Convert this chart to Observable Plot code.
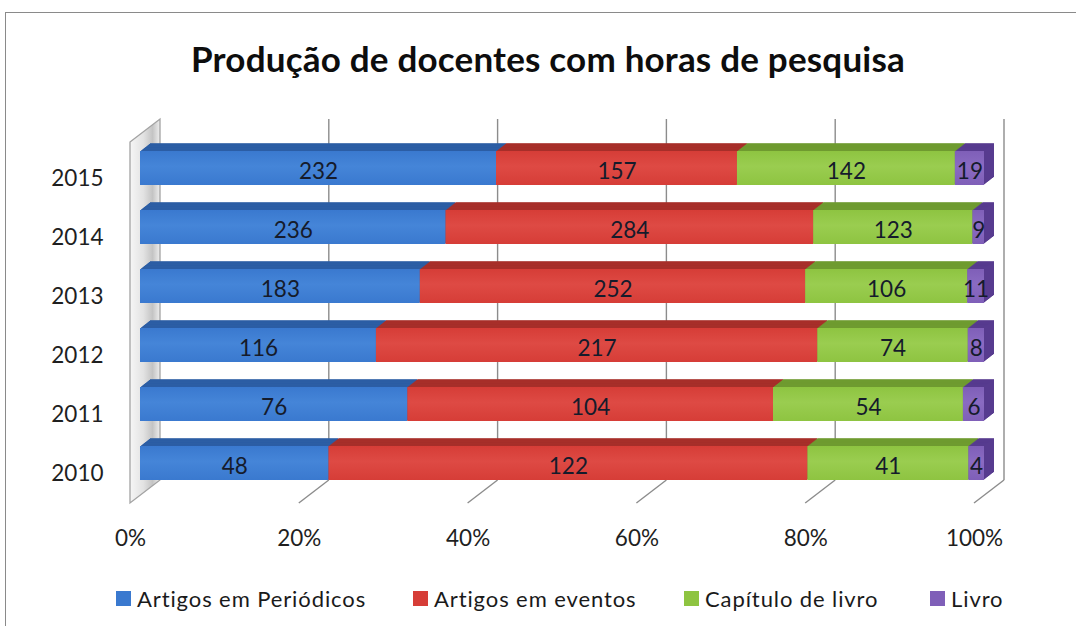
<!DOCTYPE html>
<html>
<head>
<meta charset="utf-8">
<script src="https://cdn.jsdelivr.net/npm/d3@7"></script>
<script src="https://cdn.jsdelivr.net/npm/@observablehq/plot@0.6"></script>
<style>
  html, body { margin: 0; padding: 0; background: #fff; }
  #wrap { position: relative; width: 1076px; height: 626px; overflow: hidden; font-family: Lato, "Open Sans", sans-serif; }
  #frame { position: absolute; left: 5px; top: 12px; width: 1200px; height: 800px; border-left: 1.5px solid #8a8a8a; border-top: 1.5px solid #8a8a8a; }
  #title { position: absolute; left: 0; width: 1096px; top: 41px; text-align: center; font-weight: 700; font-size: 35px; letter-spacing: 0.2px; line-height: 35px; color: #0d0d0d; }
  #chart { position: absolute; left: 0; top: 0; }
  .leg { position: absolute; top: 586px; height: 24px; display: flex; align-items: center; font-size: 22px; letter-spacing: 0.9px; color: #1a1a1a; white-space: nowrap; }
  .leg i { display: inline-block; width: 15px; height: 15px; margin-right: 6px; }
</style>
</head>
<body>
<div id="wrap">
  <div id="frame"></div>
  <div id="chart"></div>
  <div id="title">Produção de docentes com horas de pesquisa</div>
  <div id="legend"></div>
</div>
<script>
// ---- data ----
const years = ["2015", "2014", "2013", "2012", "2011", "2010"];
const series = ["Artigos em Periódicos", "Artigos em eventos", "Capítulo de livro", "Livro"];
const periodicos = [232, 236, 183, 116, 76, 48];
const eventos = [157, 284, 252, 217, 104, 122];
const capitulo = [142, 123, 106, 74, 54, 41];
const livro = [19, 9, 11, 8, 6, 4];
const xTicks = [0, 0.2, 0.4, 0.6, 0.8, 1];
const xTickLabels = ["0%", "20%", "40%", "60%", "80%", "100%"];

// ---- styles ----
const frontColors = ["#3a79cf", "#d63d37", "#8ec441", "#7f5fb8"];
const lightColors = ["#4585d8", "#de4a44", "#9acd50", "#8a6bc2"];
const darkColors = ["#2c5ea5", "#a72f2a", "#6f9b30", "#573b8f"];
const legendX = [116, 413, 684, 930];

const valuesBySeries = [periodicos, eventos, capitulo, livro];
const data = [];
years.forEach((year, i) => {
  series.forEach((s, j) => data.push({year, series: s, si: j, value: valuesBySeries[j][i]}));
});

function el(name, attrs) {
  const e = document.createElementNS("http://www.w3.org/2000/svg", name);
  for (const k in attrs) e.setAttribute(k, attrs[k]);
  return e;
}

// decoration: gradients, walls, gridlines (uses the plot's x scale)
function decor(index, scales, values, dims) {
  const X = scales.x;
  const g = el("g", {});
  const defs = el("defs", {});
  frontColors.forEach((c, i) => {
    const lg = el("linearGradient", {id: "grad" + i, x1: 0, y1: 0, x2: 0, y2: 1});
    lg.appendChild(el("stop", {offset: "0", "stop-color": c}));
    lg.appendChild(el("stop", {offset: "0.45", "stop-color": lightColors[i]}));
    lg.appendChild(el("stop", {offset: "1", "stop-color": c}));
    defs.appendChild(lg);
  });
  const wg = el("linearGradient", {id: "wallGrad", x1: 0, y1: 0, x2: 1, y2: 0});
  wg.appendChild(el("stop", {offset: "0", "stop-color": "#f6f6f6"}));
  wg.appendChild(el("stop", {offset: "0.45", "stop-color": "#e2e2e2"}));
  wg.appendChild(el("stop", {offset: "0.75", "stop-color": "#c4c4c4"}));
  wg.appendChild(el("stop", {offset: "1", "stop-color": "#eeeeee"}));
  defs.appendChild(wg);
  g.appendChild(defs);

  const yTop = dims.marginTop;
  const yBack = dims.height - dims.marginBottom;
  const ddx = 30, ddy = 23, fo = 10; // depth vector & front offset
  const x0 = X(0);
  // left wall
  g.appendChild(el("path", {
    d: `M${x0 - fo},${yTop + ddy}L${x0 - fo + ddx},${yTop}L${x0 - fo + ddx},${yBack}L${x0 - fo},${yBack + ddy}Z`,
    fill: "url(#wallGrad)", stroke: "#a3a3a3", "stroke-width": 1.3
  }));
  // back gridlines and floor lines
  xTicks.forEach(t => {
    if (t === 0) return;
    const xb = X(t) - fo + ddx;
    g.appendChild(el("line", {x1: xb, y1: yTop, x2: xb, y2: yBack, stroke: "#8c8c8c", "stroke-width": 1.4}));
    g.appendChild(el("line", {x1: X(t) - fo, y1: yBack + ddy, x2: xb, y2: yBack, stroke: "#8c8c8c", "stroke-width": 1.4}));
  });
  return g;
}

const marks = [decor];
// extrusion (top and side faces)
for (let k = 10; k >= 1; k--) {
  marks.push(Plot.barX(data, Plot.stackX({
    x: "value", y: "year", offset: "normalize",
    fill: d => darkColors[d.si], dx: k, dy: -k * 0.78
  })));
}
// front faces
marks.push(Plot.barX(data, Plot.stackX({
  x: "value", y: "year", offset: "normalize",
  fill: d => `url(#grad${d.si})`
})));
// value labels
marks.push(Plot.text(data, Plot.stackX({
  x: "value", y: "year", offset: "normalize",
  text: d => String(d.value), fill: "#151b2b", fontSize: 22.5, dy: 3
})));
// year labels
marks.push(Plot.text(years, {
  x: () => 0, y: d => d, text: d => d, textAnchor: "end", dx: -37, dy: 10,
  fontSize: 22.5, fill: "#1f1f1f"
}));
// x tick labels
marks.push(Plot.text(xTicks, {
  x: d => d, text: (d, i) => xTickLabels[i], frameAnchor: "bottom", lineAnchor: "middle",
  dx: -10, dy: 58, fontSize: 22.5, fill: "#1f1f1f"
}));

const chart = Plot.plot({
  width: 1076,
  height: 626,
  marginLeft: 140,
  marginRight: 92,
  marginTop: 119,
  marginBottom: 146,
  style: {fontFamily: "Lato, 'Open Sans', sans-serif", background: "transparent", overflow: "visible"},
  x: {domain: [0, 1], axis: null},
  y: {domain: years, range: [123, 508], padding: 0.4167, axis: null},
  color: {type: "identity"},
  marks
});
document.getElementById("chart").appendChild(chart);

const legend = document.getElementById("legend");
series.forEach((s, i) => {
  const d = document.createElement("div");
  d.className = "leg";
  d.style.left = legendX[i] + "px";
  d.innerHTML = `<i style="background:${frontColors[i]}"></i><span>${s}</span>`;
  legend.appendChild(d);
});
</script>
</body>
</html>
